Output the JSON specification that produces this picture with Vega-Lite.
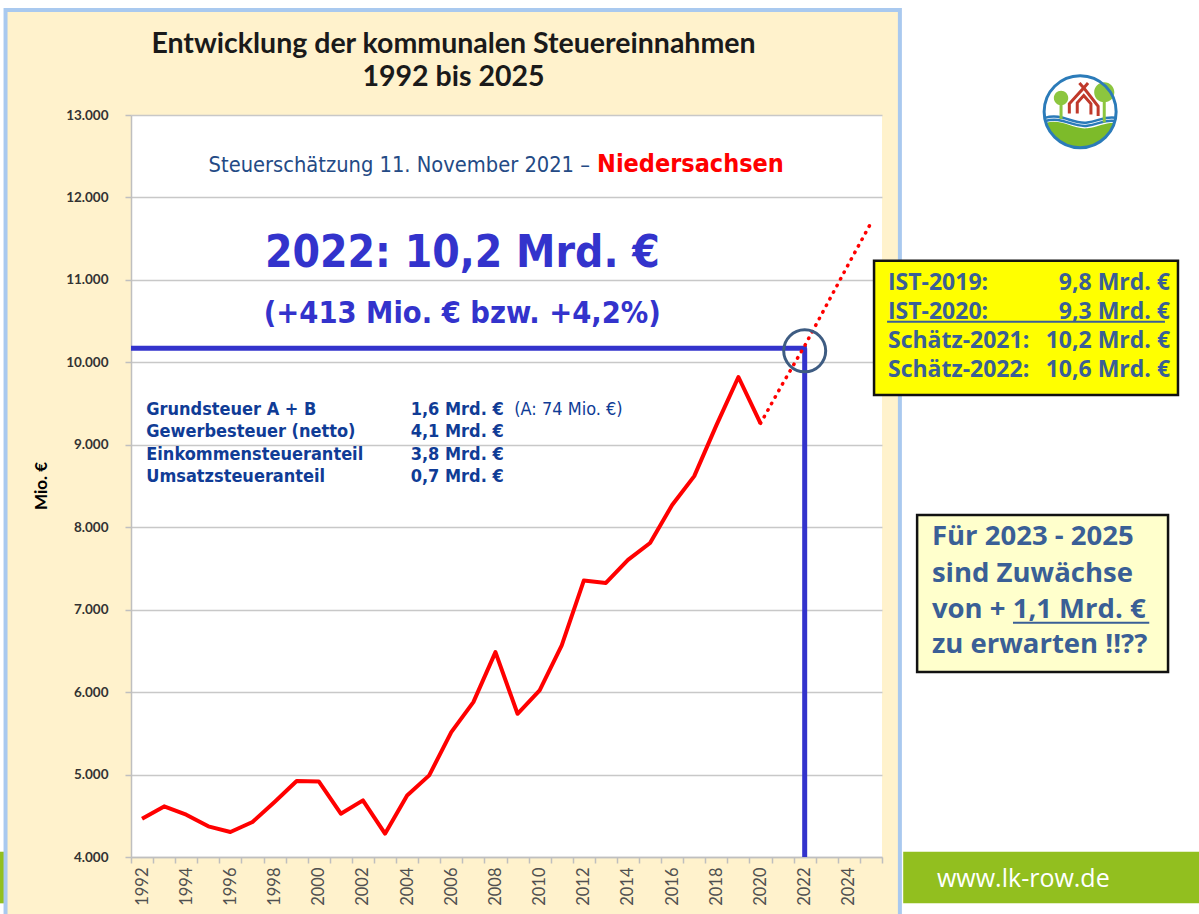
{
  "$schema": "https://vega.github.io/schema/vega-lite/v6.json",
  "width": 751,
  "height": 742,
  "autosize": {"type": "none"},
  "padding": {"left": 131, "top": 115, "right": 317, "bottom": 57},
  "background": "#FFF2CC",
  "view": {"fill": "#FFFFFF", "stroke": null},
  "resolve": {"axis": {"x": "independent", "y": "independent"}},
  "datasets": {
    "steuer": [
      {"jahr": 1992, "wert": 4465, "typ": "Ist"},
      {"jahr": 1993, "wert": 4614, "typ": "Ist"},
      {"jahr": 1994, "wert": 4513, "typ": "Ist"},
      {"jahr": 1995, "wert": 4372, "typ": "Ist"},
      {"jahr": 1996, "wert": 4303, "typ": "Ist"},
      {"jahr": 1997, "wert": 4424, "typ": "Ist"},
      {"jahr": 1998, "wert": 4667, "typ": "Ist"},
      {"jahr": 1999, "wert": 4921, "typ": "Ist"},
      {"jahr": 2000, "wert": 4917, "typ": "Ist"},
      {"jahr": 2001, "wert": 4525, "typ": "Ist"},
      {"jahr": 2002, "wert": 4687, "typ": "Ist"},
      {"jahr": 2003, "wert": 4283, "typ": "Ist"},
      {"jahr": 2004, "wert": 4747, "typ": "Ist"},
      {"jahr": 2005, "wert": 4990, "typ": "Ist"},
      {"jahr": 2006, "wert": 5515, "typ": "Ist"},
      {"jahr": 2007, "wert": 5879, "typ": "Ist"},
      {"jahr": 2008, "wert": 6485, "typ": "Ist"},
      {"jahr": 2009, "wert": 5737, "typ": "Ist"},
      {"jahr": 2010, "wert": 6020, "typ": "Ist"},
      {"jahr": 2011, "wert": 6566, "typ": "Ist"},
      {"jahr": 2012, "wert": 7353, "typ": "Ist"},
      {"jahr": 2013, "wert": 7324, "typ": "Ist"},
      {"jahr": 2014, "wert": 7603, "typ": "Ist"},
      {"jahr": 2015, "wert": 7809, "typ": "Ist"},
      {"jahr": 2016, "wert": 8270, "typ": "Ist"},
      {"jahr": 2017, "wert": 8620, "typ": "Ist"},
      {"jahr": 2018, "wert": 9235, "typ": "Ist"},
      {"jahr": 2019, "wert": 9822, "typ": "Ist"},
      {"jahr": 2020, "wert": 9260, "typ": "Ist"},
      {"jahr": 2020, "wert": 9260, "typ": "Schätzung"},
      {"jahr": 2021, "wert": 9740, "typ": "Schätzung"},
      {"jahr": 2022, "wert": 10200, "typ": "Schätzung"},
      {"jahr": 2023, "wert": 10700, "typ": "Schätzung"},
      {"jahr": 2024, "wert": 11200, "typ": "Schätzung"},
      {"jahr": 2025, "wert": 11690, "typ": "Schätzung"}
    ]
  },
  "layer": [
    {
      "data": {"values": [{}]},
      "mark": {"type": "rect", "fill": "#FFFFFF"},
      "encoding": {
        "x": {"datum": 2026.31, "type": "quantitative", "axis": null},
        "x2": {"datum": 2041},
        "y": {"datum": 14500, "type": "quantitative", "axis": null},
        "y2": {"datum": 3200}
      }
    },
    {
      "data": {"values": [{}]},
      "mark": {"type": "rect", "fill": "#FFFFFF"},
      "encoding": {
        "x": {"datum": 1985.4, "type": "quantitative", "axis": null},
        "x2": {"datum": 2041},
        "y": {"datum": 14500, "type": "quantitative", "axis": null},
        "y2": {"datum": 14274}
      }
    },
    {
      "data": {"values": [{}]},
      "mark": {"type": "rect", "fill": "#FFFFFF"},
      "encoding": {
        "x": {"datum": 1985.4, "type": "quantitative", "axis": null},
        "x2": {"datum": 1985.82},
        "y": {"datum": 14500, "type": "quantitative", "axis": null},
        "y2": {"datum": 3200}
      }
    },
    {
      "data": {"values": [{}]},
      "mark": {"type": "rect", "fill": "#92BF1F"},
      "encoding": {
        "x": {"datum": 2026.46, "type": "quantitative", "axis": null},
        "x2": {"datum": 2041},
        "y": {"datum": 4064, "type": "quantitative", "axis": null},
        "y2": {"datum": 3438}
      }
    },
    {
      "data": {"values": [{}]},
      "mark": {"type": "rect", "fill": "#92BF1F"},
      "encoding": {
        "x": {"datum": 1985.4, "type": "quantitative", "axis": null},
        "x2": {"datum": 1985.82},
        "y": {"datum": 4064, "type": "quantitative", "axis": null},
        "y2": {"datum": 3438}
      }
    },
    {
      "data": {"values": [{}]},
      "mark": {"type": "rect", "fill": null, "stroke": "#A9C9EF", "strokeWidth": 4},
      "encoding": {
        "x": {"datum": 1985.82, "type": "quantitative", "axis": null},
        "x2": {"datum": 2026.31},
        "y": {"datum": 14274, "type": "quantitative", "axis": null},
        "y2": {"datum": 3200}
      }
    },
    {
      "data": {"values": [{"t": "Entwicklung der kommunalen Steuereinnahmen", "v": 13752}, {"t": "1992 bis 2025", "v": 13352}]},
      "mark": {"type": "text", "font": "Lato", "fontSize": 28.5, "fontWeight": "bold", "color": "#1A1A1A", "align": "center", "baseline": "alphabetic"},
      "encoding": {
        "x": {"datum": 2006.1, "type": "quantitative", "axis": null},
        "y": {"field": "v", "type": "quantitative", "axis": null},
        "text": {"field": "t"}
      }
    },
    {
      "data": {"values": [{"t": "Mio. €"}]},
      "mark": {"type": "text", "font": "Lato", "fontSize": 17, "fontWeight": "bold", "color": "#000000", "align": "center", "baseline": "middle", "angle": 270},
      "encoding": {
        "x": {"datum": 1987.47, "type": "quantitative", "axis": null},
        "y": {"datum": 8500, "type": "quantitative", "axis": null},
        "text": {"field": "t"}
      }
    },
    {
      "data": {"values": [{}]},
      "mark": {"type": "rule", "color": "#3333CC", "strokeWidth": 5},
      "encoding": {
        "x": {"datum": 1991.5, "type": "quantitative", "axis": null},
        "x2": {"datum": 2022.1},
        "y": {"datum": 10172, "type": "quantitative", "axis": null}
      }
    },
    {
      "data": {"values": [{}]},
      "mark": {"type": "rule", "color": "#3333CC", "strokeWidth": 5},
      "encoding": {
        "x": {"datum": 2022, "type": "quantitative", "axis": null},
        "y": {"datum": 10172, "type": "quantitative", "axis": null},
        "y2": {"datum": 4000}
      }
    },
    {
      "data": {"name": "steuer"},
      "transform": [{"filter": "datum.typ == 'Ist'"}],
      "mark": {"type": "line", "color": "#FF0000", "strokeWidth": 4, "strokeJoin": "round"},
      "encoding": {
        "x": {
          "field": "jahr",
          "type": "quantitative",
          "scale": {"domain": [1991.5, 2025.5], "nice": false, "zero": false},
          "axis": {
            "orient": "bottom",
            "values": [1991.5, 1992.5, 1993.5, 1994.5, 1995.5, 1996.5, 1997.5, 1998.5, 1999.5, 2000.5, 2001.5, 2002.5, 2003.5, 2004.5, 2005.5, 2006.5, 2007.5, 2008.5, 2009.5, 2010.5, 2011.5, 2012.5, 2013.5, 2014.5, 2015.5, 2016.5, 2017.5, 2018.5, 2019.5, 2020.5, 2021.5, 2022.5, 2023.5, 2024.5, 2025.5],
            "labelExpr": "(datum.value + 0.5) % 2 == 0 && datum.value < 2025 ? toString(datum.value + 0.5) : ''",
            "labelOffset": 11,
            "labelAngle": -90,
            "labelFont": "Lato",
            "labelFontSize": 16.5,
            "labelColor": "#505050",
            "labelPadding": 4,
            "labelFlush": false,
            "labelOverlap": false,
            "labelBound": false,
            "grid": false,
            "ticks": true,
            "tickSize": 6,
            "tickColor": "#BFBFBF",
            "tickWidth": 1.5,
            "domainColor": "#BFBFBF",
            "domainWidth": 1.5,
            "title": null
          }
        },
        "y": {
          "field": "wert",
          "type": "quantitative",
          "scale": {"domain": [4000, 13000], "nice": false, "zero": false},
          "axis": {
            "orient": "left",
            "values": [4000, 5000, 6000, 7000, 8000, 9000, 10000, 11000, 12000, 13000],
            "labelExpr": "replace(format(datum.value, ','), ',', '.')",
            "labelFont": "Lato",
            "labelFontSize": 13.5,
            "labelFontWeight": "bold",
            "labelColor": "#333333",
            "labelPadding": 17,
            "grid": true,
            "gridColor": "#C8C8C8",
            "gridWidth": 1.5,
            "ticks": true,
            "tickSize": 6,
            "tickColor": "#BFBFBF",
            "tickWidth": 1.5,
            "domainColor": "#BFBFBF",
            "domainWidth": 1.5,
            "title": null
          }
        }
      }
    },
    {
      "data": {"name": "steuer"},
      "transform": [{"filter": "datum.typ == 'Schätzung'"}],
      "mark": {"type": "line", "color": "#FF0000", "strokeWidth": 3.5, "strokeDash": [0.5, 7], "strokeCap": "round"},
      "encoding": {
        "x": {"field": "jahr", "type": "quantitative", "axis": null},
        "y": {"field": "wert", "type": "quantitative", "axis": null}
      }
    },
    {
      "data": {"values": [{}]},
      "mark": {"type": "point", "shape": "circle", "filled": false, "stroke": "#3E5C82", "strokeWidth": 3, "size": 1764, "opacity": 1},
      "encoding": {
        "x": {"datum": 2022, "type": "quantitative", "axis": null},
        "y": {"datum": 10139, "type": "quantitative", "axis": null}
      }
    },
    {
      "data": {"values": [{"t": "Steuerschätzung 11. November 2021 –"}]},
      "mark": {"type": "text", "font": "DejaVu Sans Condensed, DejaVu Sans", "fontSize": 21.7, "color": "#244A85", "align": "right", "baseline": "alphabetic"},
      "encoding": {
        "x": {"datum": 2012.28, "type": "quantitative", "axis": null},
        "y": {"datum": 12309, "type": "quantitative", "axis": null},
        "text": {"field": "t"}
      }
    },
    {
      "data": {"values": [{"t": "Niedersachsen"}]},
      "mark": {"type": "text", "font": "DejaVu Sans Condensed, DejaVu Sans", "fontSize": 25, "fontWeight": "bold", "color": "#FF0000", "align": "left", "baseline": "alphabetic"},
      "encoding": {
        "x": {"datum": 2012.6, "type": "quantitative", "axis": null},
        "y": {"datum": 12309, "type": "quantitative", "axis": null},
        "text": {"field": "t"}
      }
    },
    {
      "data": {"values": [{"t": "2022: 10,2 Mrd. €", "v": 11156, "s": 44}, {"t": "(+413 Mio. € bzw. +4,2%)", "v": 10477, "s": 30.5}]},
      "mark": {"type": "text", "font": "DejaVu Sans Condensed, DejaVu Sans", "fontWeight": "bold", "color": "#3333CC", "align": "center", "baseline": "alphabetic"},
      "encoding": {
        "x": {"datum": 2006.5, "type": "quantitative", "axis": null},
        "y": {"field": "v", "type": "quantitative", "axis": null},
        "size": {"field": "s", "type": "quantitative", "scale": null, "legend": null},
        "text": {"field": "t"}
      }
    },
    {
      "data": {"values": [
        {"t": "Grundsteuer A + B", "w": "1,6 Mrd. €", "v": 9361},
        {"t": "Gewerbesteuer (netto)", "w": "4,1 Mrd. €", "v": 9091},
        {"t": "Einkommensteueranteil", "w": "3,8 Mrd. €", "v": 8815},
        {"t": "Umsatzsteueranteil", "w": "0,7 Mrd. €", "v": 8552}
      ]},
      "layer": [
        {
          "mark": {"type": "text", "font": "DejaVu Sans Condensed, DejaVu Sans", "fontSize": 18, "fontWeight": "bold", "color": "#103C96", "align": "left", "baseline": "alphabetic"},
          "encoding": {
            "x": {"datum": 1992.19, "type": "quantitative", "axis": null},
            "y": {"field": "v", "type": "quantitative", "axis": null},
            "text": {"field": "t"}
          }
        },
        {
          "mark": {"type": "text", "font": "DejaVu Sans Condensed, DejaVu Sans", "fontSize": 18, "fontWeight": "bold", "color": "#103C96", "align": "left", "baseline": "alphabetic"},
          "encoding": {
            "x": {"datum": 2004.16, "type": "quantitative", "axis": null},
            "y": {"field": "v", "type": "quantitative", "axis": null},
            "text": {"field": "w"}
          }
        }
      ]
    },
    {
      "data": {"values": [{"t": "(A: 74 Mio. €)"}]},
      "mark": {"type": "text", "font": "DejaVu Sans Condensed, DejaVu Sans", "fontSize": 18, "color": "#103C96", "align": "left", "baseline": "alphabetic"},
      "encoding": {
        "x": {"datum": 2008.85, "type": "quantitative", "axis": null},
        "y": {"datum": 9361, "type": "quantitative", "axis": null},
        "text": {"field": "t"}
      }
    },
    {
      "data": {"values": [{}]},
      "mark": {"type": "rect", "fill": "#FFFF00", "stroke": "#111111", "strokeWidth": 2.5},
      "encoding": {
        "x": {"datum": 2025.14, "type": "quantitative", "axis": null},
        "x2": {"datum": 2038.9},
        "y": {"datum": 11233, "type": "quantitative", "axis": null},
        "y2": {"datum": 9604}
      }
    },
    {
      "data": {"values": [
        {"label": "IST-2019:", "wert": "9,8 Mrd. €", "v": 10962},
        {"label": "IST-2020:", "wert": "9,3 Mrd. €", "v": 10610},
        {"label": "Schätz-2021:", "wert": "10,2 Mrd. €", "v": 10259},
        {"label": "Schätz-2022:", "wert": "10,6 Mrd. €", "v": 9907}
      ]},
      "layer": [
        {
          "mark": {"type": "text", "font": "Open Sans", "fontSize": 23, "fontWeight": "bold", "color": "#3A5F96", "align": "left", "baseline": "middle"},
          "encoding": {
            "x": {"datum": 2025.77, "type": "quantitative", "axis": null},
            "y": {"field": "v", "type": "quantitative", "axis": null},
            "text": {"field": "label"}
          }
        },
        {
          "mark": {"type": "text", "font": "Open Sans", "fontSize": 23, "fontWeight": "bold", "color": "#3A5F96", "align": "right", "baseline": "middle"},
          "encoding": {
            "x": {"datum": 2038.54, "type": "quantitative", "axis": null},
            "y": {"field": "v", "type": "quantitative", "axis": null},
            "text": {"field": "wert"}
          }
        }
      ]
    },
    {
      "data": {"values": [{}]},
      "mark": {"type": "rule", "color": "#3A5F96", "strokeWidth": 2},
      "encoding": {
        "x": {"datum": 2025.73, "type": "quantitative", "axis": null},
        "x2": {"datum": 2038.31},
        "y": {"datum": 10493, "type": "quantitative", "axis": null}
      }
    },
    {
      "data": {"values": [{}]},
      "mark": {"type": "rect", "fill": "#FFFFCC", "stroke": "#111111", "strokeWidth": 2.5},
      "encoding": {
        "x": {"datum": 2027.09, "type": "quantitative", "axis": null},
        "x2": {"datum": 2038.45},
        "y": {"datum": 8148, "type": "quantitative", "axis": null},
        "y2": {"datum": 6244}
      }
    },
    {
      "data": {"values": [
        {"t": "Für 2023 - 2025", "v": 7784},
        {"t": "sind Zuwächse", "v": 7336},
        {"t": "von + 1,1 Mrd. €", "v": 6899},
        {"t": "zu erwarten !!??", "v": 6474}
      ]},
      "mark": {"type": "text", "font": "Open Sans", "fontSize": 27.5, "fontWeight": "bold", "color": "#3A5F96", "align": "left", "baseline": "alphabetic"},
      "encoding": {
        "x": {"datum": 2027.76, "type": "quantitative", "axis": null},
        "y": {"field": "v", "type": "quantitative", "axis": null},
        "text": {"field": "t"}
      }
    },
    {
      "data": {"values": [{}]},
      "mark": {"type": "rule", "color": "#3A5F96", "strokeWidth": 2},
      "encoding": {
        "x": {"datum": 2031.43, "type": "quantitative", "axis": null},
        "x2": {"datum": 2037.6},
        "y": {"datum": 6842, "type": "quantitative", "axis": null}
      }
    },
    {
      "data": {"values": [{}]},
      "mark": {"type": "point", "shape": "M -0.95 0.31 C -0.5 0.18 -0.2 0.5 0.2 0.46 C 0.5 0.43 0.7 0.3 0.95 0.31 A 1 1 0 0 1 -0.95 0.31 Z", "filled": true, "fill": "#7DBB2A", "strokeWidth": 0, "size": 5184, "opacity": 1},
      "encoding": {
        "x": {"datum": 2034.47, "type": "quantitative", "axis": null},
        "y": {"datum": 13040, "type": "quantitative", "axis": null}
      }
    },
    {
      "data": {"values": [{}]},
      "mark": {"type": "point", "shape": "M -0.98 0.17 C -0.5 0.02 -0.2 0.36 0.2 0.3 C 0.5 0.26 0.7 0.12 0.98 0.17 M -0.97 0.26 C -0.5 0.11 -0.2 0.45 0.2 0.39 C 0.5 0.35 0.7 0.21 0.97 0.26", "filled": false, "stroke": "#2B7BB9", "strokeWidth": 2.5, "size": 5184, "opacity": 1},
      "encoding": {
        "x": {"datum": 2034.47, "type": "quantitative", "axis": null},
        "y": {"datum": 13040, "type": "quantitative", "axis": null}
      }
    },
    {
      "data": {"values": [{}]},
      "mark": {"type": "point", "shape": "M -0.73 -0.38 A 0.2 0.2 0 1 0 -0.33 -0.38 A 0.2 0.2 0 1 0 -0.73 -0.38 Z M 0.39 -0.54 A 0.28 0.28 0 1 0 0.95 -0.54 A 0.28 0.28 0 1 0 0.39 -0.54 Z", "filled": true, "fill": "#8CC63F", "strokeWidth": 0, "size": 5184, "opacity": 1},
      "encoding": {
        "x": {"datum": 2034.47, "type": "quantitative", "axis": null},
        "y": {"datum": 13040, "type": "quantitative", "axis": null}
      }
    },
    {
      "data": {"values": [{}]},
      "mark": {"type": "point", "shape": "M -0.53 -0.2 L -0.53 0.2 M 0.67 -0.3 L 0.67 0.3", "filled": false, "stroke": "#8CC63F", "strokeWidth": 3, "size": 5184, "opacity": 1},
      "encoding": {
        "x": {"datum": 2034.47, "type": "quantitative", "axis": null},
        "y": {"datum": 13040, "type": "quantitative", "axis": null}
      }
    },
    {
      "data": {"values": [{}]},
      "mark": {"type": "point", "shape": "M -0.3 0.05 L -0.3 -0.22 L 0.1 -0.66 L 0.5 -0.15 L 0.5 0.12 M -0.08 0.05 L -0.08 -0.25 L 0.1 -0.45 L 0.3 -0.22 L 0.3 0.08 M -0.02 -0.8 L 0.1 -0.66 L 0.22 -0.8", "filled": false, "stroke": "#C0392B", "strokeWidth": 3, "size": 5184, "opacity": 1},
      "encoding": {
        "x": {"datum": 2034.47, "type": "quantitative", "axis": null},
        "y": {"datum": 13040, "type": "quantitative", "axis": null}
      }
    },
    {
      "data": {"values": [{}]},
      "mark": {"type": "point", "shape": "circle", "filled": false, "stroke": "#2B7BB9", "strokeWidth": 3, "size": 5184, "opacity": 1},
      "encoding": {
        "x": {"datum": 2034.47, "type": "quantitative", "axis": null},
        "y": {"datum": 13040, "type": "quantitative", "axis": null}
      }
    },
    {
      "data": {"values": [{"t": "www.lk-row.de"}]},
      "mark": {"type": "text", "font": "Open Sans", "fontSize": 25, "color": "#FFFFFF", "align": "left", "baseline": "alphabetic"},
      "encoding": {
        "x": {"datum": 2027.99, "type": "quantitative", "axis": null},
        "y": {"datum": 3636, "type": "quantitative", "axis": null},
        "text": {"field": "t"}
      }
    }
  ]
}
